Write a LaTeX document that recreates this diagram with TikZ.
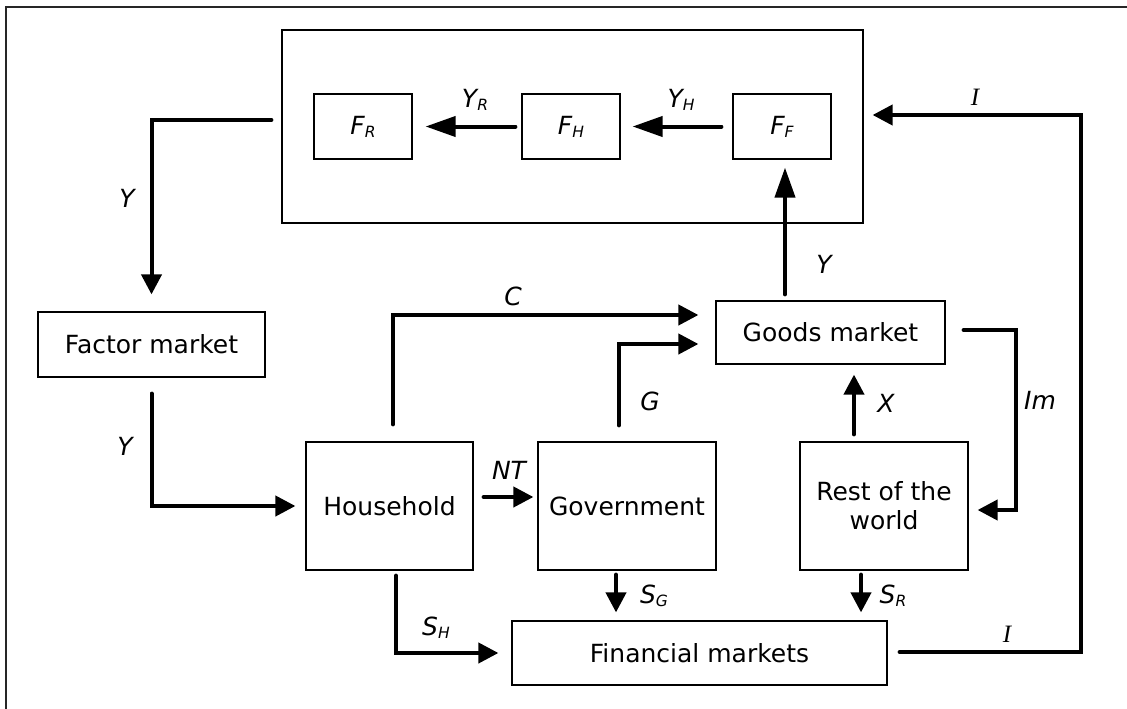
\documentclass[tikz,border=0pt]{standalone}
\usepackage{fontspec}
\setmainfont{DejaVu Sans}
\newfontfamily\serifI{Liberation Serif}
\usetikzlibrary{arrows.meta}
\newcommand\lowsub[1]{\raisebox{-3pt}{\fontsize{15.5}{15.5}\selectfont #1}}
\begin{document}
\begin{tikzpicture}[x=1pt,y=-1pt,
  box/.style={draw=black, line width=1.2pt, rectangle, inner sep=0pt,
    font=\fontsize{25}{29}\selectfont, align=center},
  flow/.style={line width=4pt, line cap=round, line join=miter,
    -{Triangle[length=20pt,width=20pt]}},
  flowlong/.style={line width=4pt, line cap=round,
    -{Triangle[length=30pt,width=20pt]}},
  lab/.style={font=\fontsize{25}{29}\selectfont\itshape, inner sep=0pt, anchor=base},
  labI/.style={font=\serifI\itshape\fontsize{25}{29}\selectfont, inner sep=0pt, anchor=base}]
\useasboundingbox (0,0) rectangle (1127,709);
\draw[line width=1.2pt, draw=black!85] (6,709) -- (6,7) -- (1127,7);

% boxes
\node[box, minimum width=581pt, minimum height=193pt] (top) at (572.5,126.5) {};
\node[box, minimum width=98pt, minimum height=65pt] (FR) at (363,126.5) {\itshape F\lowsub{R}};
\node[box, minimum width=98pt, minimum height=65pt] (FH) at (571,126.5) {\itshape F\lowsub{H}};
\node[box, minimum width=98pt, minimum height=65pt] (FF) at (782,126.5) {\itshape F\lowsub{F}};
\node[box, minimum width=227pt, minimum height=65pt] (factor) at (151.5,344.5) {Factor market};
\node[box, minimum width=167pt, minimum height=128pt] (household) at (389.5,506) {Household};
\node[box, minimum width=178pt, minimum height=128pt] (gov) at (627,506) {Government};
\node[box, minimum width=168pt, minimum height=128pt] (rest) at (884,506) {Rest of the\\world};
\node[box, minimum width=229pt, minimum height=63pt] (goods) at (830.5,332.5) {Goods market};
\node[box, minimum width=375pt, minimum height=64pt] (fin) at (699.5,653) {Financial markets};

% helper coordinates
\coordinate (sg1) at ([xshift=-11pt,yshift=-4pt]gov.south);
\coordinate (sr1) at ([xshift=-23pt,yshift=-4pt]rest.south);
\coordinate (fintop) at ([yshift=8pt]fin.north);
\coordinate (x1) at ([xshift=-30pt,yshift=7pt]rest.north);
\coordinate (x2) at ([yshift=-10pt]goods.south);
\coordinate (y1) at ([xshift=-45.5pt,yshift=6pt]goods.north);
\coordinate (y2) at ([yshift=-8pt]FF.south);

% connectors
\draw[flow] ([xshift=-10pt,yshift=6.5pt]top.west) -| ([yshift=17pt]factor.north);
\draw[flow] ([yshift=-16pt]factor.south) |- ([xshift=-10pt]household.west);
\draw[flow] ([xshift=3.5pt,yshift=17pt]household.north) |- ([xshift=-17pt,yshift=17.5pt]goods.west);
\draw[flow] ([xshift=-8pt,yshift=16pt]gov.north) |- ([xshift=-17pt,yshift=-11.5pt]goods.west);
\draw[flow] ([xshift=10pt,yshift=9pt]household.east) -- ([xshift=-4pt,yshift=9pt]gov.west);
\draw[flow] ([xshift=6.5pt,yshift=-5pt]household.south) |- ([xshift=-13pt]fin.west);
\draw[flow] (sg1) -- (sg1 |- fintop);
\draw[flow] (sr1) -- (sr1 |- fintop);
\draw[flow] (x1) -- (x1 |- x2);
\draw[flow] ([xshift=18pt,yshift=2.5pt]goods.east) -- ++(52,0) |- ([xshift=9pt,yshift=-4pt]rest.east);
\draw[flow] ([xshift=12pt,yshift=1pt]fin.east) -- ++(181,0) |- ([xshift=9pt,yshift=11.5pt]top.east);
\draw[flowlong] (y1) -- (y1 |- y2);
\draw[flowlong] ([xshift=-11pt]FF.west) -- ([xshift=12pt]FH.east);
\draw[flowlong] ([xshift=-6pt]FH.west) -- ([xshift=13pt]FR.east);

% labels
\node[lab] (lY1) at (127,207) {Y};
\node[lab] (lY2) at (125,455) {Y};
\node[lab] (lC) at (513,305) {C};
\node[lab] (lG) at (650,410) {G};
\node[lab] (lNT) at (509,479) {NT};
\node[lab] (lSH) at (436,635) {S\lowsub{H}};
\node[lab] (lSG) at (654,603) {S\lowsub{G}};
\node[lab] (lSR) at (893,603) {S\lowsub{R}};
\node[lab] (lX) at (886,412) {X};
\node[lab] (lIm) at (1040,409) {Im};
\node[lab] (lY3) at (824,273) {Y};
\node[lab] (lYR) at (475,107) {Y\lowsub{R}};
\node[lab] (lYH) at (681,107) {Y\lowsub{H}};
\node[labI] (lI1) at (1007,642) {I};
\node[labI] (lI2) at (975,106) {I};
\end{tikzpicture}
\end{document}
